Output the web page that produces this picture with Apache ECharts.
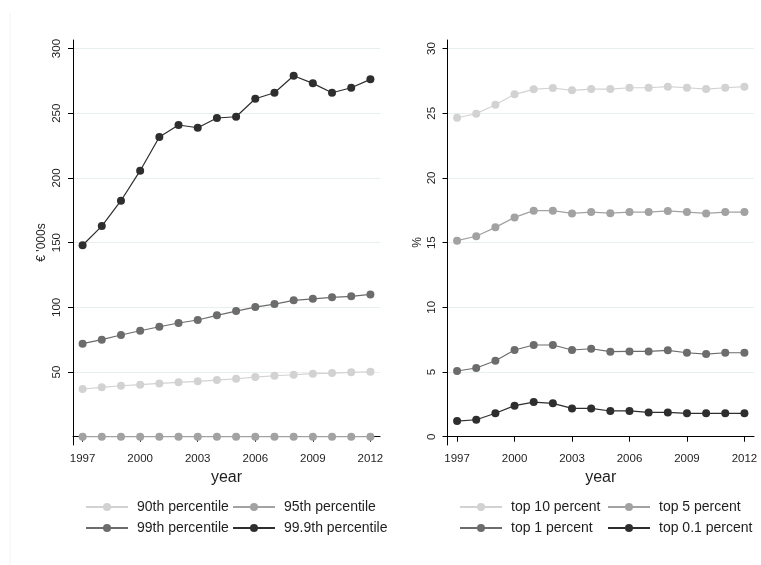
<!DOCTYPE html>
<html>
<head>
<meta charset="utf-8">
<script src="https://cdn.jsdelivr.net/npm/echarts@6/dist/echarts.min.js"></script>
<style>
  html, body { margin: 0; padding: 0; background: #fff; }
  #chart { width: 761px; height: 565px; }
</style>
</head>
<body>
<div id="chart"></div>
<script>
const years = [1997, 1998, 1999, 2000, 2001, 2002, 2003, 2004, 2005, 2006, 2007, 2008, 2009, 2010, 2011, 2012];
const yearTicks = [1997, 2000, 2003, 2006, 2009, 2012];

// left panel: percentile thresholds, € '000s
const p90 = [36.9, 38.2, 39.4, 40.2, 41.2, 42.0, 42.8, 43.8, 44.8, 46.1, 47.1, 47.9, 48.7, 49.2, 49.8, 50.2];
const p95 = [0, 0, 0, 0, 0, 0, 0, 0, 0, 0, 0, 0, 0, 0, 0, 0];
const p99 = [71.9, 75.0, 78.6, 81.9, 85.0, 87.9, 90.2, 93.8, 97.1, 100.2, 102.5, 105.4, 106.6, 107.7, 108.5, 110.0];
const p999 = [148, 162.8, 182.4, 205.6, 231.6, 240.9, 238.8, 246.3, 247.3, 261.2, 265.8, 279.0, 273.1, 265.8, 269.7, 276.2];
const leftTicks = [50, 100, 150, 200, 250, 300];

// right panel: income shares, %
const top10 = [24.65, 24.96, 25.66, 26.46, 26.85, 26.95, 26.77, 26.87, 26.87, 26.97, 26.97, 27.05, 26.97, 26.87, 26.97, 27.05];
const top5 = [15.15, 15.49, 16.18, 16.95, 17.47, 17.47, 17.26, 17.36, 17.28, 17.36, 17.36, 17.45, 17.36, 17.26, 17.36, 17.36];
const top1 = [5.08, 5.31, 5.87, 6.7, 7.09, 7.09, 6.7, 6.8, 6.57, 6.59, 6.59, 6.68, 6.49, 6.39, 6.49, 6.49];
const top01 = [1.21, 1.31, 1.81, 2.4, 2.68, 2.58, 2.19, 2.19, 1.99, 1.99, 1.88, 1.88, 1.81, 1.81, 1.81, 1.81];
const rightTicks = [0, 5, 10, 15, 20, 25, 30];

const leftNames = ['90th percentile', '95th percentile', '99th percentile', '99.9th percentile'];
const rightNames = ['top 10 percent', 'top 5 percent', 'top 1 percent', 'top 0.1 percent'];
const shades = ['#d2d2d2', '#a2a2a2', '#6c6c6c', '#2e2e2e'];

const FONT = '"Liberation Sans", Arial, sans-serif';
const TXT = '#1e1e1e';
const GRIDLINE = '#e7eff1';

function makeX(gridIndex) {
    return {
        type: 'value',
        gridIndex: gridIndex,
        min: 1996.5,
        max: 2012.5,
        name: 'year',
        nameLocation: 'middle',
        nameGap: 18,
        nameTextStyle: { fontFamily: FONT, fontSize: 16, color: TXT, verticalAlign: 'top' },
        axisLine: { lineStyle: { color: '#000', width: 1 } },
        axisTick: { show: true, length: 5, customValues: yearTicks, lineStyle: { color: '#000' } },
        axisLabel: {
            customValues: yearTicks,
            margin: 8,
            fontFamily: FONT,
            fontSize: 11.5,
            color: TXT,
            formatter: (v) => String(v),
        },
        splitLine: { show: false },
    };
}

function makeY(gridIndex, min, max, ticks, name, nameGap) {
    return {
        type: 'value',
        gridIndex: gridIndex,
        min: min,
        max: max,
        name: name,
        nameLocation: 'middle',
        nameGap: nameGap,
        nameRotate: 90,
        nameTextStyle: { fontFamily: FONT, fontSize: 12, color: TXT },
        axisLine: { show: true, lineStyle: { color: '#000', width: 1 } },
        axisTick: { show: true, length: 5, customValues: ticks, lineStyle: { color: '#000' } },
        axisLabel: { customValues: ticks, rotate: 90, margin: 10, fontFamily: FONT, fontSize: 11.5, color: TXT },
        splitLine: { show: true, lineStyle: { color: GRIDLINE, width: 1 } },
    };
}

function makeSeries(name, values, idx, axisIndex) {
    return {
        name: name,
        type: 'line',
        xAxisIndex: axisIndex,
        yAxisIndex: axisIndex,
        data: years.map((y, i) => [y, values[i]]),
        symbol: 'circle',
        symbolSize: 8,
        showSymbol: true,
        animation: false,
        color: shades[idx],
        lineStyle: { color: shades[idx], width: 1.2 },
        itemStyle: { color: shades[idx] },
    };
}

function makeLegend(names, left) {
    return {
        orient: 'vertical',
        left: left,
        top: 500,
        data: names,
        itemWidth: 42,
        itemHeight: 10,
        itemGap: 7,
        padding: 0,
        selectedMode: false,
        textStyle: { fontFamily: FONT, fontSize: 14, color: TXT, padding: [0, 0, 0, 4] },
    };
}

const chart = echarts.init(document.getElementById('chart'), null, { renderer: 'canvas' });
chart.setOption({
    backgroundColor: '#ffffff',
    animation: false,
    grid: [
        { left: 73, top: 40, width: 307, height: 405 },
        { left: 447.5, top: 40, width: 306.5, height: 405 },
    ],
    xAxis: [makeX(0), makeX(1)],
    yAxis: [
        makeY(0, -6.4, 306.6, leftTicks, "€ '000s", 25),
        makeY(1, -0.64, 30.66, rightTicks, '%', 24),
    ],
    legend: [
        makeLegend([leftNames[0], leftNames[2]], 85),
        makeLegend([leftNames[1], leftNames[3]], 232),
        makeLegend([rightNames[0], rightNames[2]], 459),
        makeLegend([rightNames[1], rightNames[3]], 607),
    ],
    graphic: [
        {
            type: 'line',
            shape: { x1: 10, y1: 13, x2: 10, y2: 565 },
            style: { stroke: '#f2f2f2', lineWidth: 1 },
            silent: true,
        },
    ],
    series: [
        makeSeries(leftNames[0], p90, 0, 0),
        makeSeries(leftNames[1], p95, 1, 0),
        makeSeries(leftNames[2], p99, 2, 0),
        makeSeries(leftNames[3], p999, 3, 0),
        makeSeries(rightNames[0], top10, 0, 1),
        makeSeries(rightNames[1], top5, 1, 1),
        makeSeries(rightNames[2], top1, 2, 1),
        makeSeries(rightNames[3], top01, 3, 1),
    ],
});
</script>
</body>
</html>
